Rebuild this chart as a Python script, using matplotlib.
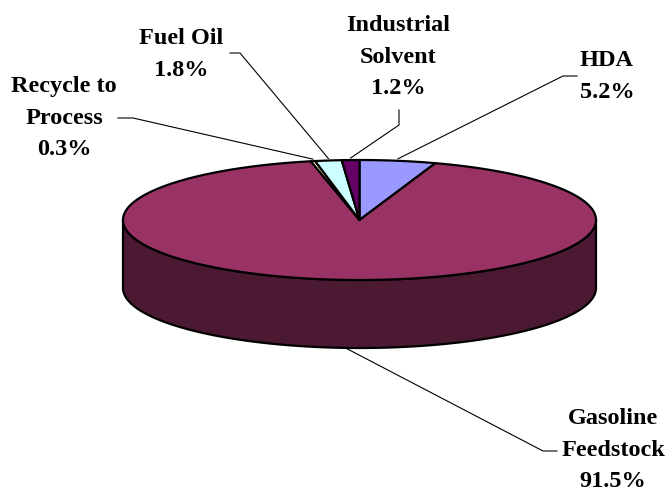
import numpy as np
import matplotlib.pyplot as plt
from matplotlib.patches import Polygon

# slices, clockwise from 12 o'clock
names = [["HDA"], ["Gasoline", "Feedstock"], ["Recycle to", "Process"],
         ["Fuel Oil"], ["Industrial", "Solvent"]]
shares = [5.2, 91.5, 0.3, 1.8, 1.2]
colors = ["#9999FF", "#993366", "#FFFFCC", "#CCFFFF", "#660066"]

# label layout: centre x, first baseline, leader elbow points (pixels)
label_xy = [(607, 66), (613, 424), (64, 92), (181, 44), (398, 31)]
elbows = [[(577, 76), (563, 76)],
          [(557, 451), (543, 451)],
          [(118, 118), (133, 118)],
          [(230, 53), (240, 53)],
          [(399, 110), (399, 125)]]

cx, cy, a, b, depth = 359.5, 220, 236.5, 60, 68
line_h = 31.5


def rim(theta, dy=0.0):
    t = np.radians(theta)
    return cx + a * np.sin(t), cy - b * np.cos(t) + dy


def darker(hex_color, f=0.5):
    r, g, bl = (int(hex_color[i:i + 2], 16) for i in (1, 3, 5))
    return "#%02x%02x%02x" % (int(r * f), int(g * f), int(bl * f))


fig = plt.figure(figsize=(6.65, 4.91), dpi=100)
ax = fig.add_axes([0, 0, 1, 1])
ax.set_xlim(0, 665)
ax.set_ylim(491, 0)
ax.axis("off")

bounds = np.concatenate([[0], np.cumsum(shares)]) / sum(shares) * 360

# front wall: only the parts of each slice between 90 and 270 degrees
for i in range(len(shares)):
    t0, t1 = max(bounds[i], 90), min(bounds[i + 1], 270)
    if t1 <= t0:
        continue
    th = np.linspace(t0, t1, 200)
    xs, ys = rim(th)
    xb, yb = rim(th[::-1], depth)
    pts = np.column_stack([np.concatenate([xs, xb]), np.concatenate([ys, yb])])
    ax.add_patch(Polygon(pts, closed=True, facecolor=darker(colors[i]),
                         edgecolor="black", lw=1.6, joinstyle="round"))

# top face
for i in range(len(shares)):
    th = np.linspace(bounds[i], bounds[i + 1], max(3, int(bounds[i + 1] - bounds[i]) * 2))
    xs, ys = rim(th)
    pts = np.column_stack([np.concatenate([[cx], xs]), np.concatenate([[cy], ys])])
    ax.add_patch(Polygon(pts, closed=True, facecolor=colors[i],
                         edgecolor="black", lw=1.6, joinstyle="round"))

# labels and leader lines
for i in range(len(shares)):
    mid = (bounds[i] + bounds[i + 1]) / 2
    if 90 < mid < 270:
        px, py = rim(mid, depth)
    else:
        px, py = rim(mid, -2)
    ex = [p[0] for p in elbows[i]] + [px]
    ey = [p[1] for p in elbows[i]] + [py]
    ax.plot(ex, ey, color="black", lw=0.8)

    x0, y0 = label_xy[i]
    lines = names[i] + ["%.1f%%" % shares[i]]
    for k, txt in enumerate(lines):
        ax.text(x0, y0 + k * line_h, txt, ha="center", va="baseline",
                family="Liberation Serif", fontweight="bold", fontsize=17.5)

fig.savefig("out.png", dpi=100)
